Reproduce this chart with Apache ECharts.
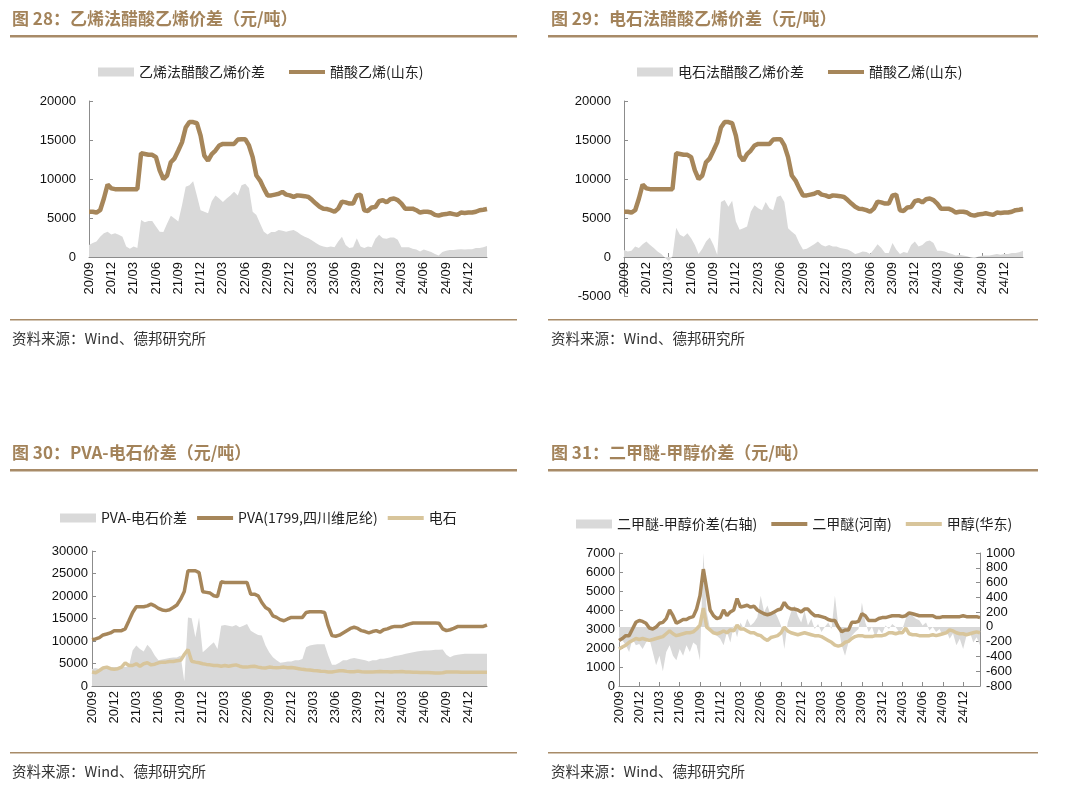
<!DOCTYPE html>
<html><head><meta charset="utf-8">
<script src="https://cdn.jsdelivr.net/npm/echarts@6/dist/echarts.min.js"></script>
<style>html,body{margin:0;padding:0;background:#fff}#c{width:1080px;height:789px}</style>
</head><body><div id="c"></div>
<script>
// ---- categories (semi-monthly) ----
const months = ['20/09','20/10','20/11','20/12',
 '21/01','21/02','21/03','21/04','21/05','21/06','21/07','21/08','21/09','21/10','21/11','21/12',
 '22/01','22/02','22/03','22/04','22/05','22/06','22/07','22/08','22/09','22/10','22/11','22/12',
 '23/01','23/02','23/03','23/04','23/05','23/06','23/07','23/08','23/09','23/10','23/11','23/12',
 '24/01','24/02','24/03','24/04','24/05','24/06','24/07','24/08','24/09','24/10','24/11','24/12',
 '25/01','25/02'];
const tickLabels = ['20/09','20/12','21/03','21/06','21/09','21/12','22/03','22/06','22/09','22/12',
 '23/03','23/06','23/09','23/12','24/03','24/06','24/09','24/12'];

// ---- 图28 / 图29 ----
const vacShandong = [
 5800,5800,5700,6000,7500,9300,8800,8700,8700,8700,8700,8700,
 8700,8700,13300,13200,13100,13100,12800,11100,10000,10450,12150,12650,
 13650,14700,16600,17300,17300,17150,15550,13000,12350,13200,13650,14300,
 14500,14500,14500,14500,15050,15100,15100,14300,12800,10450,9800,8800,
 7900,7900,8000,8100,8350,8000,7900,7700,7900,7850,7800,7700,
 7300,6850,6450,6200,6150,6000,5800,6200,7100,7000,6850,6850,
 7900,8000,6000,5900,6350,6400,7150,7300,7000,7400,7500,7300,
 6850,6200,6200,6200,6000,5700,5800,5800,5700,5400,5300,5450,
 5500,5600,5500,5400,5700,5650,5700,5700,5800,6000,6050,6150];
const spreadEthylene = [
 1550,1800,2000,2600,3050,3250,2900,3050,2850,2600,1350,1050,
 1350,1150,4750,4450,4600,4600,3900,3250,3200,4300,5300,4950,
 4550,6650,9000,9200,9700,7900,6000,5800,5600,7150,7900,7500,
 7050,7500,7900,8350,7900,9200,9400,8850,5800,5400,4300,3250,
 2900,3200,3200,3450,3350,3250,3350,3450,3200,2850,2600,2400,
 2100,1800,1500,1350,1250,1350,1250,2000,2600,1550,1150,1250,
 2400,1350,1150,1350,1250,2350,2850,2400,2350,2500,2500,2200,
 1250,1250,1250,1050,950,700,950,800,650,400,200,650,
 800,900,900,950,1000,950,1000,1000,1150,1150,1250,1400];
const spreadCarbide = [
 900,700,800,1350,1150,1650,2000,1550,1150,700,400,-100,
 -550,100,3750,2850,2600,3050,2400,1550,400,1050,2000,2500,
 1550,300,7050,7300,6450,7200,4550,3500,3700,3900,5800,6650,
 6250,6000,7050,6250,6000,7700,7900,7050,3700,3250,2850,1800,
 950,1050,1350,1650,2000,1550,1350,1550,1350,1350,1150,1050,
 950,700,400,500,700,650,400,950,1650,1150,500,500,
 1800,950,400,650,500,1550,2000,1350,1550,2000,2100,1800,
 800,800,700,500,400,200,300,200,100,-50,-150,50,
 150,200,200,300,400,300,400,400,500,500,600,800];

// ---- 图30 ----
const pva = [
 10300,10450,10750,11350,11550,11800,12300,12300,12300,12700,14500,16350,
 17600,17600,17600,17800,18200,17800,17250,16900,16750,16950,17450,18000,
 19300,21000,25600,25600,25600,25200,20950,20800,20650,20050,19900,23150,
 23000,23000,23000,23000,23000,23000,23000,20400,20400,20050,18550,17450,
 16950,15600,15250,14750,14500,14900,15250,15250,15250,15250,16350,16500,
 16500,16500,16500,16350,13400,11200,11050,11300,11800,12300,12800,13050,
 12800,12300,12100,11800,12100,12300,11950,12500,12700,13050,13250,13250,
 13250,13550,13800,14000,14000,14000,14000,14000,14000,14000,13950,12700,
 12300,12500,12800,13200,13250,13250,13250,13250,13250,13250,13250,13550];
const carbide = [
 3100,2950,3450,4000,4200,3850,3700,3850,4200,5150,4550,4550,
 4950,4400,4950,5150,4700,4850,5150,5300,5300,5450,5450,5600,
 5700,7000,8100,5500,5300,5150,4950,4800,4700,4550,4550,4400,
 4550,4400,4550,4700,4400,4200,4200,4350,4400,4200,4050,4000,
 4200,4100,4050,4100,4200,4050,4100,4000,3850,3700,3600,3550,
 3450,3400,3300,3250,3100,3100,3250,3400,3400,3250,3150,3150,
 3300,3150,3100,3100,3100,3150,3200,3150,3150,3100,3150,3150,
 3200,3100,3100,3050,3050,3000,3000,3000,2950,2900,2900,2950,
 3100,3100,3100,3100,3050,3050,3050,3050,3050,3050,3050,3050];
const spreadPva = [
 3800,4000,3700,3700,3800,4200,4200,4200,4200,4200,4400,7900,
 9000,8250,7650,9150,8250,6800,5700,5900,6050,6200,6350,6350,
 6800,1000,15250,15050,10850,15250,7500,8250,9000,9750,8250,13400,
 13550,13400,13250,13550,13050,13400,13800,12300,11800,11350,11200,9000,
 7500,6400,5700,5150,5300,5450,5450,5700,5700,6000,8600,9000,
 9150,9300,9300,9300,6800,4700,4700,5150,5700,5700,6050,6200,
 6050,5900,5700,5450,5700,5700,6050,6050,6200,6400,6650,6800,
 6950,7150,7350,7500,7650,7800,7900,7900,7950,8050,8050,8100,
 6950,6400,6800,6950,7050,7150,7150,7150,7150,7150,7150,7150];

// ---- 图31 ----
const dme = [
 2400,2500,2650,2650,3000,3350,3450,3400,3300,3050,3000,3100,
 3300,3350,3550,4000,3700,3300,3400,3500,3500,3600,3650,4050,
 4750,6150,5100,4000,3700,3550,3600,4000,3700,3900,4000,4600,
 4150,4200,4250,4150,4200,4000,3900,3800,3750,3800,3900,4000,
 4050,4400,4150,4050,4050,4000,3900,4050,4050,3850,3700,3700,
 3650,3600,3500,3450,3450,3100,2850,2950,2950,3350,3350,3400,
 3800,3700,3450,3450,3450,3550,3600,3600,3650,3700,3700,3700,
 3650,3700,3850,3800,3750,3700,3700,3700,3700,3700,3600,3600,
 3650,3650,3650,3650,3650,3650,3700,3650,3650,3650,3650,3600];
const methanol = [
 1950,2050,2150,2300,2400,2500,2450,2500,2450,2400,2450,2500,
 2550,2600,2750,2900,2750,2650,2700,2750,2800,2800,2850,3000,
 3200,4100,3100,2950,2800,2750,2800,2900,2800,2950,2900,3200,
 3000,3000,2900,2800,2800,2700,2650,2500,2400,2550,2600,2650,
 2800,3100,2900,2800,2750,2700,2750,2800,2750,2700,2650,2650,
 2600,2500,2400,2300,2150,2100,2150,2300,2350,2500,2600,2650,
 2650,2600,2600,2600,2650,2650,2650,2700,2800,2800,2750,2800,
 2800,3050,2750,2700,2700,2650,2650,2650,2650,2700,2650,2700,
 2750,2800,2950,2900,2800,2750,2750,2700,2750,2800,2850,2800];
const spreadDme = [
 -210,-180,-250,-340,-160,-250,-230,-300,-210,-160,-340,-520,
 -390,-600,-340,-250,-390,-450,-300,-390,-250,-340,-210,-250,
 -450,1000,200,-30,-70,-120,-160,-250,-70,-210,20,-140,
 60,-30,110,20,60,130,420,200,290,150,220,130,
 20,-300,60,200,290,150,60,220,20,110,-30,40,
 -70,0,60,-30,420,20,-250,-390,-210,-120,-70,-30,
 330,60,-70,0,-140,-30,-90,20,-30,40,0,-70,
 -30,110,200,150,110,90,20,60,-50,0,-70,-30,
 -120,-50,-160,-90,-250,-160,-300,-120,-70,-210,-140,-250];

// ---- build ----
const categories = [];
months.forEach(m => { categories.push(m + 'a'); categories.push(m + 'b'); });
const tickSet = new Set(tickLabels.map(t => t + 'a'));
const showTick = (i, v) => tickSet.has(v);

const BROWN = '#a6865a', LIGHT = '#d8c59b', GRAY = '#d9d9d9', AXIS = '#8c8c8c';
const TITLE = '#a3835a', RULE = '#a88b68';
const FONT = '"Liberation Sans", Arial, "Noto Sans CJK SC", sans-serif';
const CJK = '"Noto Sans CJK SC", "Liberation Sans", sans-serif';
const LINE_ICON = 'path://M0,0H40V4.5H0Z';

// zeroShift: pixel distance from the grid bottom up to the value 0 (chart 29 has a negative range)
function xAx(g, zeroShift) {
  return {
    type: 'category', gridIndex: g, data: categories, boundaryGap: false,
    offset: zeroShift ? -zeroShift : 0,
    axisLine: { onZero: false, lineStyle: { color: AXIS, width: 1 } },
    axisTick: { inside: true, length: 4, interval: showTick, lineStyle: { color: AXIS } },
    axisLabel: { interval: showTick, rotate: 90, margin: 5, fontSize: 13, color: '#111', fontFamily: FONT,
      formatter: v => v.slice(0, 5) },
    splitLine: { show: false }
  };
}
function yAx(g, min, max, step, margin, pos) {
  return {
    type: 'value', gridIndex: g, min: min, max: max, interval: step, position: pos || 'left',
    axisLine: { show: true, lineStyle: { color: AXIS, width: 1 } },
    axisTick: { show: true, inside: true, length: 4, lineStyle: { color: AXIS } },
    axisLabel: { fontSize: 13, color: '#111', fontFamily: FONT, margin: margin, formatter: v => String(v) },
    splitLine: { show: false }
  };
}
function area(name, x, y, data) {
  return { name, type: 'line', xAxisIndex: x, yAxisIndex: y, data, symbol: 'none', smooth: false,
    lineStyle: { width: 0, color: GRAY }, itemStyle: { color: GRAY }, areaStyle: { color: GRAY, opacity: 1 }, z: 1 };
}
function line(name, x, y, data, color, w) {
  return { name, type: 'line', xAxisIndex: x, yAxisIndex: y, data, symbol: 'none', smooth: false,
    lineStyle: { width: w, color }, itemStyle: { color }, z: 3 };
}
function leg(left, top, items, gap, fs) {
  return { left, top, orient: 'horizontal', itemWidth: 36, itemHeight: 9, itemGap: gap, selectedMode: false,
    symbolKeepAspect: true,
    textStyle: { fontSize: fs, color: '#222', fontFamily: CJK },
    data: items.map((n, i) => i === 0 ? { name: n, icon: 'rect' } : { name: n, icon: LINE_ICON }) };
}
function titleText(x, y, text) {
  return { type: 'text', x, y, style: { text, fill: TITLE, font: 'bold 17px ' + CJK, verticalAlign: 'middle' } };
}
function srcText(x, y) {
  return { type: 'text', x, y, style: { text: '资料来源：Wind、德邦研究所', fill: '#333', font: '14.5px ' + CJK, verticalAlign: 'middle' } };
}
function rule(x, y, w, h) {
  return { type: 'rect', shape: { x, y, width: w, height: h }, style: { fill: RULE } };
}

const H2 = 195; // grid height of chart 29
const option = {
  animation: false,
  backgroundColor: '#fff',
  grid: [
    { left: 89, top: 101, width: 398, height: 156, containLabel: false, outerBoundsMode: 'none' },
    { left: 624, top: 101, width: 399, height: H2, containLabel: false, outerBoundsMode: 'none' },
    { left: 92, top: 551, width: 395, height: 135, containLabel: false, outerBoundsMode: 'none' },
    { left: 619, top: 553, width: 361, height: 133, containLabel: false, outerBoundsMode: 'none' }
  ],
  xAxis: [xAx(0), xAx(1, H2 * 5000 / 25000), xAx(2), xAx(3)],
  yAxis: [
    yAx(0, 0, 20000, 5000, 13),
    yAx(1, -5000, 20000, 5000, 13),
    yAx(2, 0, 30000, 5000, 4),
    yAx(3, 0, 7000, 1000, 4),
    yAx(3, -800, 1000, 200, 6, 'right')
  ],
  legend: [
    leg(93, 60, ['乙烯法醋酸乙烯价差', '醋酸乙烯(山东)'], 24, 14),
    leg(632, 60, ['电石法醋酸乙烯价差', '醋酸乙烯(山东) '], 24, 14),
    leg(55, 506, ['PVA-电石价差', 'PVA(1799,四川维尼纶)', '电石'], 10, 14),
    leg(571, 512, ['二甲醚-甲醇价差(右轴)', '二甲醚(河南)', '甲醇(华东)'], 14, 14)
  ],
  series: [
    area('乙烯法醋酸乙烯价差', 0, 0, spreadEthylene),
    line('醋酸乙烯(山东)', 0, 0, vacShandong, BROWN, 4.5),
    area('电石法醋酸乙烯价差', 1, 1, spreadCarbide),
    line('醋酸乙烯(山东) ', 1, 1, vacShandong, BROWN, 4.5),
    area('PVA-电石价差', 2, 2, spreadPva),
    line('PVA(1799,四川维尼纶)', 2, 2, pva, BROWN, 3.5),
    line('电石', 2, 2, carbide, LIGHT, 3.5),
    area('二甲醚-甲醇价差(右轴)', 3, 4, spreadDme),
    line('二甲醚(河南)', 3, 3, dme, BROWN, 3.5),
    line('甲醇(华东)', 3, 3, methanol, LIGHT, 3.5)
  ],
  graphic: [
    titleText(12, 19, '图 28：乙烯法醋酸乙烯价差（元/吨）'),
    titleText(551, 19, '图 29：电石法醋酸乙烯价差（元/吨）'),
    titleText(12, 453, '图 30：PVA-电石价差（元/吨）'),
    titleText(551, 453, '图 31：二甲醚-甲醇价差（元/吨）'),
    rule(10, 35, 507, 2.5), rule(548, 35, 490, 2.5),
    rule(10, 469, 507, 2.5), rule(548, 469, 490, 2.5),
    rule(10, 319, 507, 1.5), rule(548, 319, 490, 1.5),
    rule(10, 752, 507, 1.5), rule(548, 752, 490, 1.5),
    srcText(12, 338), srcText(551, 338), srcText(12, 771), srcText(551, 771)
  ]
};
const chart = echarts.init(document.getElementById('c'), null, { renderer: 'canvas' });
chart.setOption(option);
</script></body></html>
